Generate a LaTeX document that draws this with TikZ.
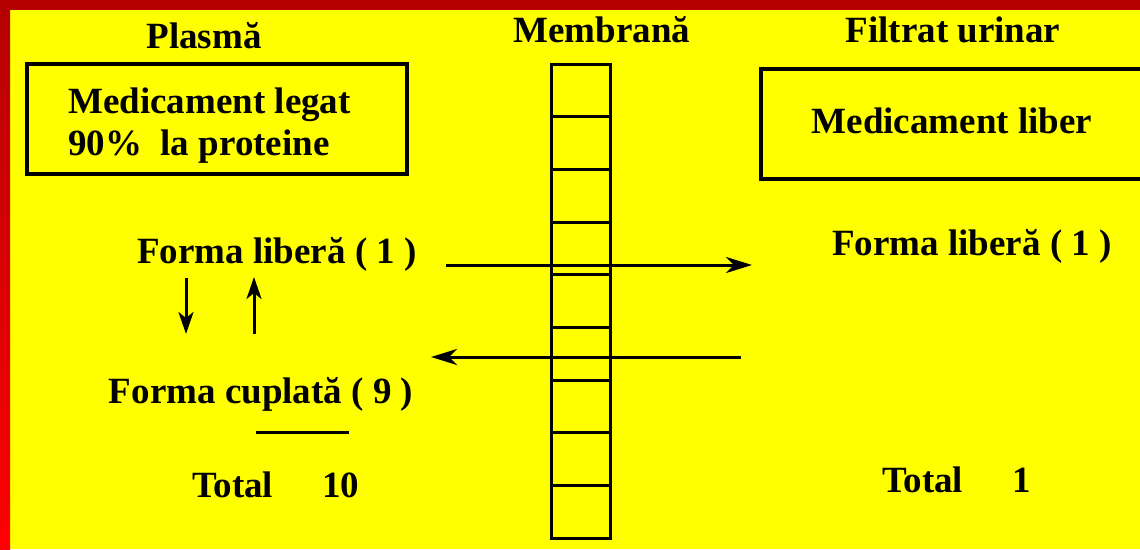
\documentclass[tikz,border=0pt]{standalone}
\usepackage{fontspec}
\setmainfont{Liberation Serif}
\usetikzlibrary{arrows.meta}
\definecolor{bgyellow}{RGB}{255,255,0}
\definecolor{darkred}{RGB}{180,0,0}
\definecolor{brightred}{RGB}{255,0,0}
\tikzset{
  txt/.style={inner sep=0pt, font=\fontsize{37}{40}\selectfont\bfseries},
  boxline/.style={line width=3.2pt},
  cellline/.style={line width=3pt},
  flow/.style={line width=3pt, -{Stealth[length=26pt,width=16pt,inset=8pt]}},
  eq/.style={line width=3pt, -{Stealth[length=22pt,width=15pt,inset=6pt]}},
}
\begin{document}
\begin{tikzpicture}[x=1pt,y=-1pt]
\useasboundingbox (0,0) rectangle (1140,549);
% background and frame
\fill[bgyellow] (0,0) rectangle (1140,549);
\shade[top color=darkred, bottom color=brightred] (0,0) rectangle (10,549);
\fill[darkred] (0,0) rectangle (1140,10);

% headings
\node[txt, anchor=base] (hplasma) at (204,48) {Plasmă};
\node[txt, anchor=base] (hmembr) at (602,42) {Membrană};
\node[txt, anchor=base] (hfiltr) at (953,42) {Filtrat urinar};

% boxes
\draw[boxline] (27,64) rectangle (407,174);
\node[txt, anchor=base west] (legat1) at (68,113) {Medicament legat};
\node[txt, anchor=base west] (legat2) at (68,155) {90\%\ \ la proteine};
\draw[boxline] (761,69) rectangle (1150,179);
\node[txt, anchor=base] (liber) at (952,133) {Medicament liber};

% membrane
\draw[cellline] (551,64) rectangle (610,538);
\foreach \k in {1,...,8}{
  \draw[cellline] (551,{64+\k*52.667}) -- (610,{64+\k*52.667});
}

% texts
\node[txt, anchor=base] (fl) at (277,263) {Forma liberă ( 1 )};
\node[txt, anchor=base] (fr) at (972,255) {Forma liberă ( 1 )};
\node[txt, anchor=base] (fc) at (261,403) {Forma cuplată ( 9 )};
\node[txt, anchor=base west] (totl) at (192,497) {Total\hspace{49pt}10};
\node[txt, anchor=base west] (totr) at (882,492) {Total\hspace{49pt}1};

% arrows
\coordinate (a1s) at (446,265);
\coordinate (a1e) at (752,265);
\coordinate (a2s) at (741,357);
\coordinate (a2e) at (431,357);
\draw[flow] (a1s) -- (a1e);
\draw[flow] (a2s) -- (a2e);
\coordinate (d1s) at (186,278);
\coordinate (d1e) at (186,334);
\coordinate (u1s) at (254,334);
\coordinate (u1e) at (254,277);
\draw[eq] (d1s) -- (d1e);
\draw[eq] (u1s) -- (u1e);

% sum line
\coordinate (s1) at (256,432);
\coordinate (s2) at (349,432);
\draw[line width=3pt] (s1) -- (s2);
\end{tikzpicture}
\end{document}
